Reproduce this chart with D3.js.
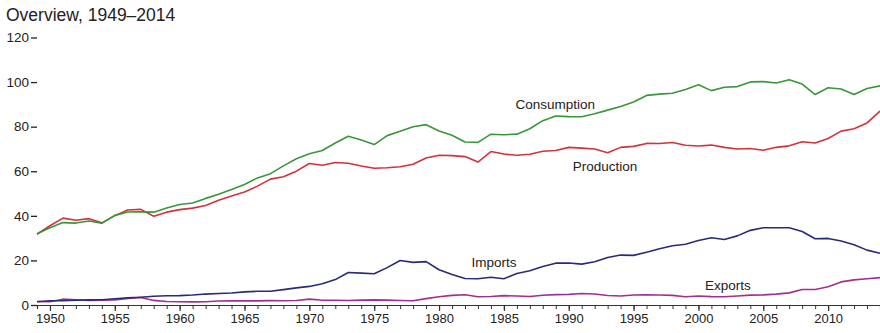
<!DOCTYPE html>
<html>
<head>
<meta charset="utf-8">
<script src="https://cdn.jsdelivr.net/npm/d3@7"></script>
<style>
  body { margin: 0; background: #fff; }
  svg { display: block; font-family: "Liberation Sans", Arial, Helvetica, sans-serif; }
</style>
</head>
<body>
<div id="chart"></div>
<script>
// US primary energy overview, quadrillion Btu, 1949-2014
var years = d3.range(1949, 2015);

var consumption = [31.98, 34.62, 36.97, 36.75, 37.66, 36.64, 40.21, 41.75, 41.79, 41.65,
  43.47, 45.09, 45.74, 47.83, 49.64, 51.82, 54.02, 57.02, 58.91, 62.42,
  65.62, 67.84, 69.29, 72.70, 75.71, 73.99, 71.97, 75.98, 77.96, 79.99,
  80.90, 78.07, 76.17, 73.10, 72.97, 76.63, 76.39, 76.64, 79.05, 82.70,
  84.79, 84.49, 84.44, 85.78, 87.42, 89.07, 91.03, 94.02, 94.60, 95.02,
  96.65, 98.81, 96.17, 97.65, 97.97, 100.09, 100.19, 99.62, 101.02, 99.12,
  94.42, 97.47, 96.92, 94.39, 97.10, 98.30];

var production = [31.72, 35.54, 38.97, 38.03, 38.73, 36.84, 40.09, 42.60, 42.89, 39.79,
  41.65, 42.80, 43.47, 44.60, 47.00, 48.90, 50.67, 53.33, 56.47, 57.53,
  60.03, 63.50, 62.72, 63.92, 63.59, 62.37, 61.36, 61.60, 62.05, 63.14,
  65.95, 67.18, 67.01, 66.57, 64.11, 68.83, 67.70, 67.17, 67.65, 68.98,
  69.32, 70.70, 70.36, 69.96, 68.32, 70.71, 71.17, 72.49, 72.47, 72.87,
  71.69, 71.33, 71.74, 70.71, 69.95, 70.22, 69.43, 70.73, 71.40, 73.21,
  72.65, 74.71, 77.99, 79.06, 81.67, 87.00];

var imports = [1.47, 1.91, 1.89, 2.15, 2.30, 2.35, 2.79, 3.20, 3.45, 3.93,
  4.14, 4.19, 4.48, 4.90, 5.13, 5.40, 5.90, 6.15, 6.16, 6.91,
  7.68, 8.34, 9.54, 11.39, 14.61, 14.30, 14.03, 16.76, 19.95, 19.11,
  19.46, 15.80, 13.72, 11.86, 11.75, 12.47, 11.78, 14.15, 15.40, 17.30,
  18.77, 18.82, 18.33, 19.37, 21.27, 22.39, 22.26, 23.70, 25.22, 26.58,
  27.25, 28.97, 30.16, 29.41, 31.01, 33.49, 34.66, 34.68, 34.68, 32.97,
  29.69, 29.87, 28.75, 27.07, 24.62, 23.20];

var exports = [1.59, 1.47, 2.62, 2.37, 2.05, 2.11, 2.29, 2.95, 3.40, 2.06,
  1.55, 1.48, 1.38, 1.44, 1.80, 1.85, 1.83, 1.83, 1.98, 1.88,
  2.05, 2.63, 2.15, 2.12, 2.03, 2.20, 2.32, 2.17, 2.05, 1.92,
  2.85, 3.70, 4.33, 4.61, 3.69, 3.79, 4.20, 4.02, 3.81, 4.37,
  4.66, 4.75, 5.14, 4.94, 4.26, 4.06, 4.51, 4.63, 4.51, 4.30,
  3.71, 4.01, 3.77, 3.67, 4.05, 4.43, 4.56, 4.87, 5.43, 6.95,
  6.92, 8.18, 10.37, 11.27, 11.77, 12.30];

var yTicks = [0, 20, 40, 60, 80, 100, 120];
var xLabelTicks = d3.range(1950, 2015, 5);

// series + where its name sits (year, value)
var series = [
  { name: "Consumption", values: consumption, color: "#3a963a", labelAt: [1985.9, 87.8] },
  { name: "Production",  values: production,  color: "#d2323e", labelAt: [1990.3, 60.0] },
  { name: "Imports",     values: imports,     color: "#2a2a78", labelAt: [1982.5, 17.0] },
  { name: "Exports",     values: exports,     color: "#a0308f", labelAt: [2000.5, 6.7] }
];

var width = 880, height = 333;

var x = d3.scaleLinear().domain([1949, 2014]).range([37, 880]);
var y = d3.scaleLinear().domain([0, 120]).range([305, 37.5]);

var svg = d3.select("#chart").append("svg")
  .attr("width", width)
  .attr("height", height);

svg.append("text")
  .attr("x", 6)
  .attr("y", 21)
  .style("font-size", "17.5px")
  .style("fill", "#222")
  .text("Overview, 1949\u20132014");

// y axis: labels and short dashes, no domain line
var yAxis = svg.append("g")
  .attr("transform", "translate(37,0)")
  .call(d3.axisLeft(y).tickValues(yTicks).tickSize(6).tickPadding(2));
yAxis.select(".domain").remove();
yAxis.selectAll("line").attr("stroke", "#222").attr("stroke-width", 1.3);
yAxis.selectAll("text").style("font-size", "13.5px").style("fill", "#222")
  .style("font-family", "Liberation Sans, Arial, sans-serif");

// x axis: minor ticks every year
var xMinor = svg.append("g")
  .attr("transform", "translate(0,305)")
  .call(d3.axisBottom(x).tickValues(years).tickSize(4).tickFormat(""));
xMinor.select(".domain").attr("stroke", "#333").attr("stroke-width", 1.2);
xMinor.selectAll("line").attr("stroke", "#333");

var xMajor = svg.append("g")
  .attr("transform", "translate(0,305)")
  .call(d3.axisBottom(x).tickValues(xLabelTicks).tickSize(6).tickPadding(3).tickFormat(d3.format("d")));
xMajor.select(".domain").remove();
xMajor.selectAll("line").attr("stroke", "#333").attr("stroke-width", 1.2);
xMajor.selectAll("text").style("font-size", "13px").style("fill", "#222")
  .style("font-family", "Liberation Sans, Arial, sans-serif");

var line = d3.line()
  .x(function(d, i) { return x(years[i]); })
  .y(function(d) { return y(d); });

// draw bottom series first so the big ones sit on top
series.slice().reverse().forEach(function(s) {
  svg.append("path")
    .datum(s.values)
    .attr("d", line)
    .attr("fill", "none")
    .attr("stroke", s.color)
    .attr("stroke-width", 1.6)
    .attr("stroke-linejoin", "round");
});

series.forEach(function(s) {
  svg.append("text")
    .attr("x", x(s.labelAt[0]))
    .attr("y", y(s.labelAt[1]))
    .style("font-size", "13.5px")
    .style("fill", "#222")
    .text(s.name);
});
</script>
</body>
</html>
